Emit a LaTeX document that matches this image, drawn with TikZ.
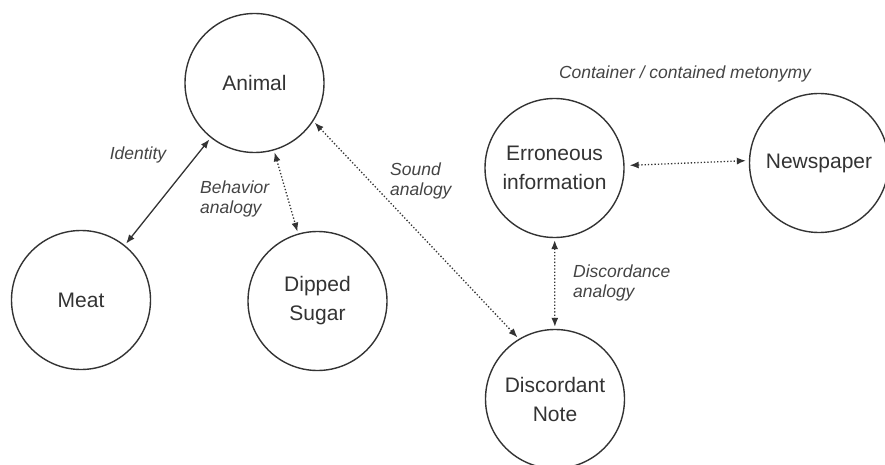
\documentclass[tikz,border=0pt]{standalone}
\usepackage{fontspec}
\setmainfont{Liberation Sans}
\usetikzlibrary{arrows.meta}
\definecolor{ink}{HTML}{333333}
\definecolor{lab}{HTML}{444444}
\begin{document}
\begin{tikzpicture}[x=1pt,y=-1pt,
  concept/.style={circle,draw=ink,line width=1.4pt,minimum size=139pt,inner sep=0pt,align=center,text=ink,font=\fontsize{21}{29}\selectfont},
  rel/.style={font=\fontsize{17.5}{20.5}\selectfont\itshape,text=lab,align=left,inner sep=0pt},
  link/.style={draw=ink,line width=1.3pt,{Latex[length=9pt,width=7pt]}-{Latex[length=9pt,width=7pt]},shorten <=2pt,shorten >=2pt},
  dlink/.style={link,dotted}]
\useasboundingbox (0,0) rectangle (885,465);
\node[concept] (animal) at (254.5,83) {Animal};
\node[concept] (meat) at (81,300) {Meat};
\node[concept] (sugar) at (317.5,301) {Dipped\\Sugar};
\node[concept] (err) at (554.5,168) {Erroneous\\information};
\node[concept] (news) at (819,163) {Newspaper};
\node[concept] (note) at (555,399) {Discordant\\Note};
\draw[link] (animal) -- (meat);
\draw[dlink] (animal) -- (sugar);
\draw[dlink] (animal.-33) -- (note.121);
\draw[dlink,shorten <=5pt,shorten >=3pt] (err.2) -- (news.178);
\draw[dlink] (err) -- (note);
\node[rel] (lid) at (138,155) {Identity};
\node[rel,anchor=west] (lbeh) at (200,199) {Behavior\\analogy};
\node[rel,anchor=west] (lsnd) at (390,181) {Sound\\analogy};
\node[rel,anchor=west] (ldis) at (573,283) {Discordance\\analogy};
\node[rel] (lmet) at (685,74) {Container / contained metonymy};
\end{tikzpicture}
\end{document}
